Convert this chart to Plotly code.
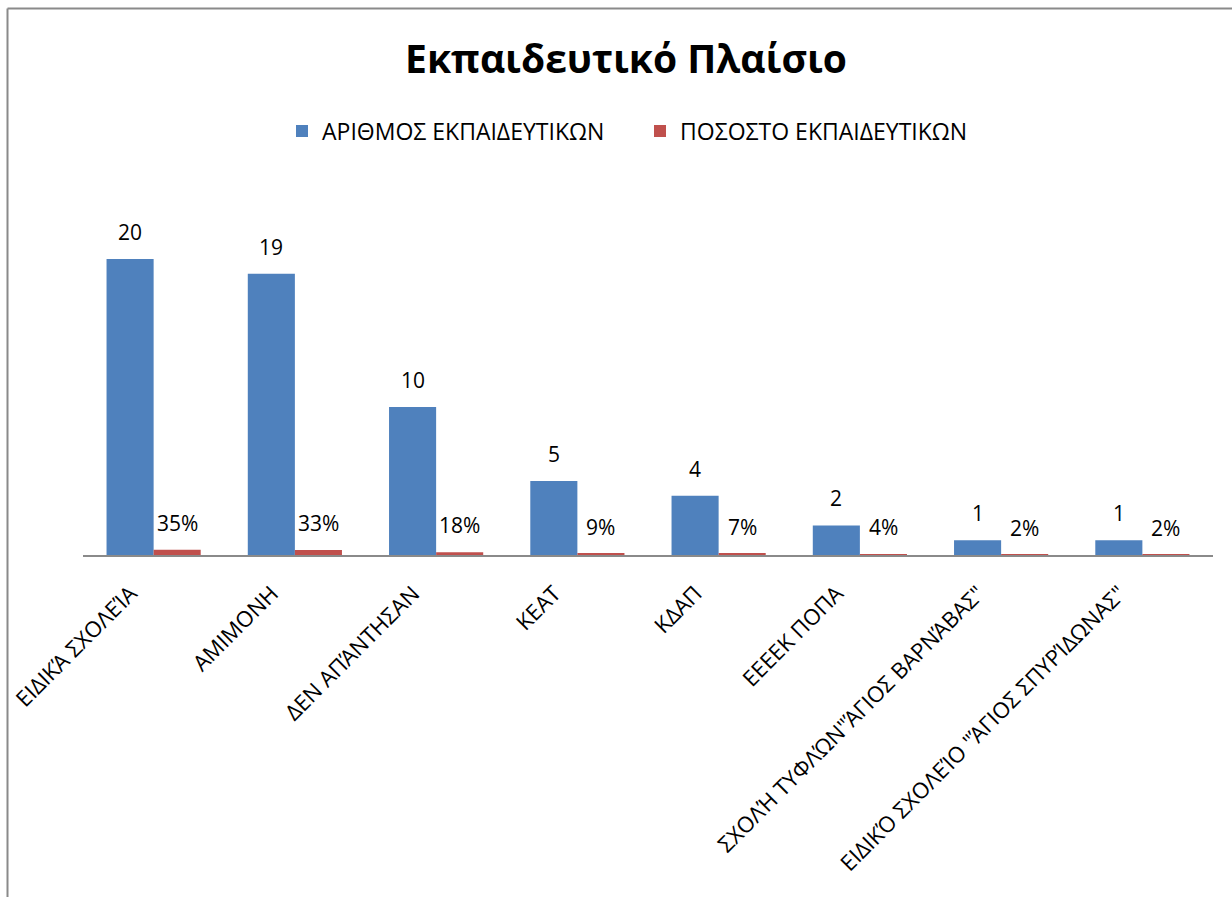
import plotly.graph_objects as go

# Categories and series
categories = [
    "ΕΙΔΙΚΆ ΣΧΟΛΕΊΑ",
    "ΑΜΙΜΟΝΗ",
    "ΔΕΝ ΑΠΆΝΤΗΣΑΝ",
    "ΚΕΑΤ",
    "ΚΔΑΠ",
    "ΕΕΕΕΚ ΠΟΠΑ",
    "ΣΧΟΛΉ ΤΥΦΛΏΝ\"ΆΓΙΟΣ ΒΑΡΝΆΒΑΣ\"",
    "ΕΙΔΙΚΌ ΣΧΟΛΕΊΟ \"ΆΓΙΟΣ ΣΠΥΡΊΔΩΝΑΣ\"",
]
teachers_count = [20, 19, 10, 5, 4, 2, 1, 1]
teachers_share = [0.35, 0.33, 0.18, 0.09, 0.07, 0.04, 0.02, 0.02]

series_names = ["ΑΡΙΘΜΟΣ ΕΚΠΑΙΔΕΥΤΙΚΩΝ", "ΠΟΣΟΣΤΟ ΕΚΠΑΙΔΕΥΤΙΚΩΝ"]

BLUE = "#4F81BD"
RED = "#C0504D"
FONT = "Open Sans, Noto Sans, DejaVu Sans, sans-serif"

W, H = 1232, 897
M_L, M_R, M_T, M_B = 83, 19, 185, 342
plot_w = W - M_L - M_R
plot_h = H - M_T - M_B

fig = go.Figure()
fig.add_trace(go.Bar(name=series_names[0], x=categories, y=teachers_count,
                     marker=dict(color=BLUE, line=dict(width=0))))
fig.add_trace(go.Bar(name=series_names[1], x=categories, y=teachers_share,
                     marker=dict(color=RED, line=dict(width=0))))

# Value labels above each bar
bargap = 1 / 3
cat_px = plot_w / len(categories)
bar_px = cat_px * (1 - bargap) / 2
label_font = dict(size=21, color="#000", family=FONT)
annotations = []
for cat, v in zip(categories, teachers_count):
    annotations.append(dict(x=cat, y=v, xref="x", yref="y", text=f"{v}",
                            showarrow=False, xshift=-bar_px / 2, yshift=11,
                            yanchor="bottom", font=label_font))
for cat, v in zip(categories, teachers_share):
    annotations.append(dict(x=cat, y=v, xref="x", yref="y", text=f"{round(v * 100)}%",
                            showarrow=False, xshift=bar_px / 2, yshift=11,
                            yanchor="bottom", font=label_font))

# Outer chart frame (top and left edges visible)
def px_to_paper_x(px):
    return (px - M_L) / plot_w

def px_to_paper_y(py):
    return (H - M_B - py) / plot_h

shapes = [
    dict(type="line", xref="paper", yref="paper",
         x0=px_to_paper_x(7.5), x1=px_to_paper_x(W + 5),
         y0=px_to_paper_y(8.5), y1=px_to_paper_y(8.5),
         line=dict(color="#8a8a8a", width=2)),
    dict(type="line", xref="paper", yref="paper",
         x0=px_to_paper_x(7.5), x1=px_to_paper_x(7.5),
         y0=px_to_paper_y(8.5), y1=px_to_paper_y(H + 5),
         line=dict(color="#8a8a8a", width=2)),
]

fig.update_layout(
    width=W, height=H,
    margin=dict(l=M_L, r=M_R, t=M_T, b=M_B, autoexpand=False),
    paper_bgcolor="white", plot_bgcolor="white",
    barmode="group", bargap=bargap, bargroupgap=0,
    font=dict(family=FONT, color="#000"),
    title=dict(text="<b>Εκπαιδευτικό Πλαίσιο</b>", x=626 / W, xanchor="center",
               y=1 - 59 / H, yanchor="middle",
               font=dict(size=39, family=FONT, color="#000")),
    legend=dict(orientation="h", x=px_to_paper_x(640), xanchor="center",
                y=px_to_paper_y(131), yanchor="middle",
                font=dict(size=23, family=FONT, color="#000"),
                entrywidth=313, itemclick=False),
    xaxis=dict(showline=True, linecolor="#8a8a8a", linewidth=2, ticks="",
               tickangle=-45, tickfont=dict(size=22, family=FONT, color="#000"),
               ticklabelshift=-23, ticklabelstandoff=15,
               showgrid=False),
    yaxis=dict(range=[0, 25], visible=False, showgrid=False, zeroline=False),
    annotations=annotations,
    shapes=shapes,
)

fig.write_html("out.html")
